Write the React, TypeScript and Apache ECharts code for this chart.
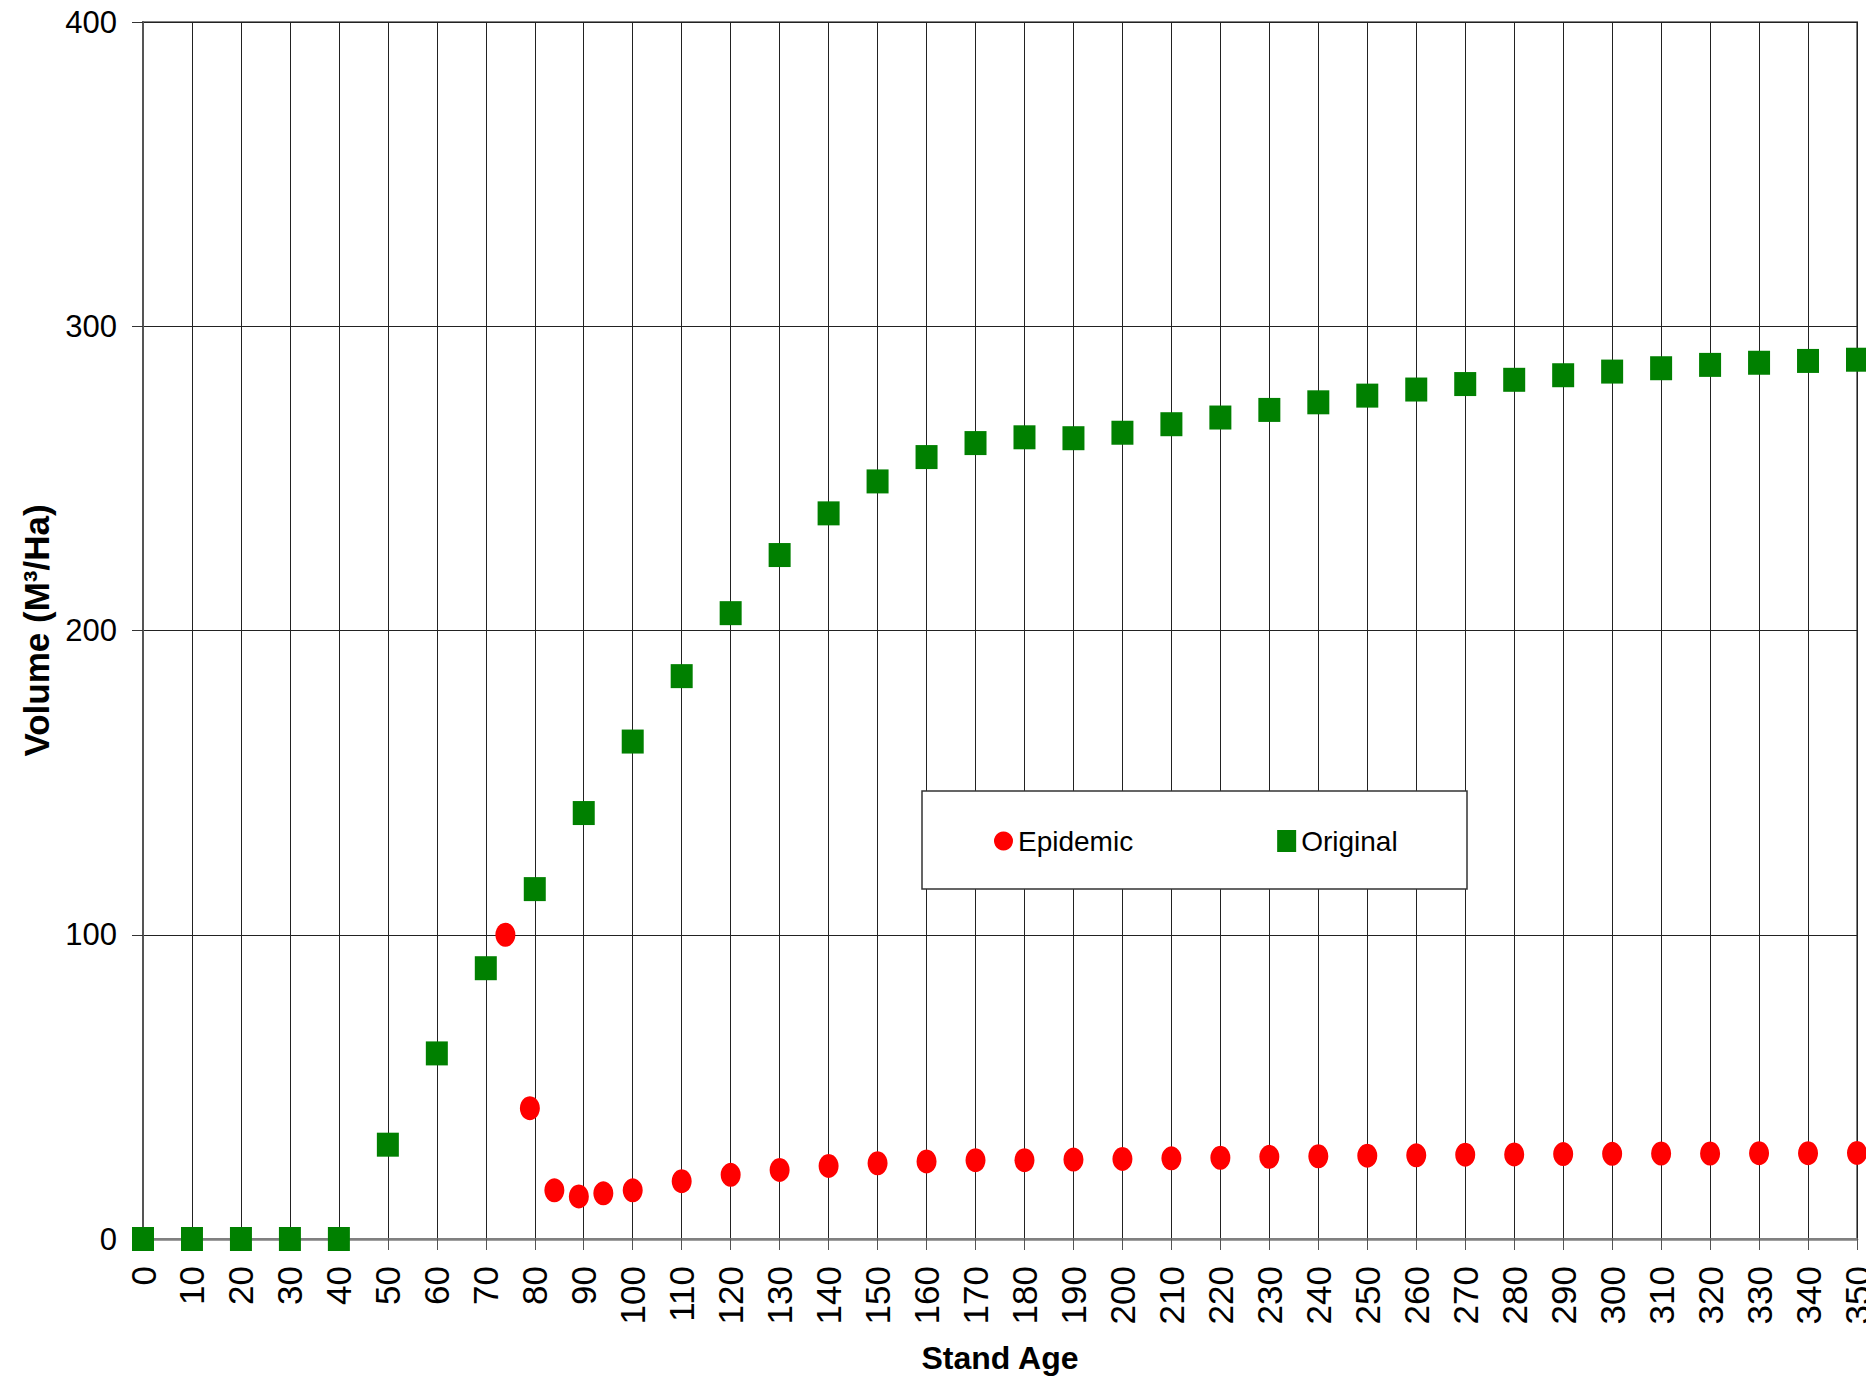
import React, { useEffect, useRef } from "react";
import * as echarts from "echarts";

const epidemicAges = [74, 79, 84, 89, 94, 100, 110, 120, 130, 140, 150, 160, 170, 180, 190, 200, 210, 220, 230, 240, 250, 260, 270, 280, 290, 300, 310, 320, 330, 340, 350];
const epidemicVolumes = [100, 43, 16, 14, 15, 16, 19, 21.1, 22.7, 24, 24.9, 25.5, 25.9, 25.9, 26.1, 26.3, 26.5, 26.7, 27, 27.2, 27.4, 27.5, 27.7, 27.8, 27.9, 28, 28.1, 28.1, 28.2, 28.2, 28.3];

const originalAges = [0, 10, 20, 30, 40, 50, 60, 70, 80, 90, 100, 110, 120, 130, 140, 150, 160, 170, 180, 190, 200, 210, 220, 230, 240, 250, 260, 270, 280, 290, 300, 310, 320, 330, 340, 350];
const originalVolumes = [0, 0, 0, 0, 0, 31, 61, 89, 115, 140, 163.5, 185, 205.7, 224.8, 238.5, 249, 257, 261.6, 263.5, 263.2, 265, 267.8, 270, 272.5, 275, 277.2, 279.2, 281, 282.4, 283.9, 285.1, 286.2, 287.3, 288, 288.6, 289];

const seriesNames = ["Epidemic", "Original"];
const xAxisTitle = "Stand Age";
const yAxisTitle = "Volume (M³/Ha)";

const FONT = "'Liberation Sans', Arial, sans-serif";

export default function App() {
  const ref = useRef<HTMLDivElement>(null);
  useEffect(() => {
    if (!ref.current) return;
    const chart = echarts.init(ref.current, null, { renderer: "svg" });
    chart.setOption({
      animation: false,
      backgroundColor: "#ffffff",
      textStyle: { fontFamily: FONT },
      grid: {
        left: 143,
        top: 22,
        right: 9,
        bottom: 145,
        containLabel: false,
        outerBoundsMode: "none",
        show: true,
        borderColor: "#808080",
        borderWidth: 2,
      },
      xAxis: {
        type: "value",
        min: 0,
        max: 350,
        interval: 10,
        name: xAxisTitle,
        nameLocation: "middle",
        nameGap: 103,
        nameTextStyle: { fontFamily: FONT, fontSize: 32, fontWeight: "bold", color: "#000" },
        axisLine: { show: true, lineStyle: { color: "#808080", width: 2.5 } },
        axisTick: { show: true, length: 11, lineStyle: { color: "#555" } },
        axisLabel: { rotate: 90, margin: 27, fontSize: 35, color: "#000", fontFamily: FONT },
        splitLine: { show: true, lineStyle: { color: "#222", width: 1 } },
      },
      yAxis: {
        type: "value",
        min: 0,
        max: 400,
        interval: 100,
        name: yAxisTitle,
        nameLocation: "middle",
        nameGap: 89,
        nameRotate: 90,
        nameTextStyle: { fontFamily: FONT, fontSize: 35, fontWeight: "bold", color: "#000" },
        axisLine: { show: true, lineStyle: { color: "#555", width: 2 } },
        axisTick: { show: true, length: 11, lineStyle: { color: "#333" } },
        axisLabel: { margin: 26, fontSize: 31, color: "#000", fontFamily: FONT },
        splitLine: { show: true, lineStyle: { color: "#222", width: 1 } },
      },
      legend: {
        data: seriesNames,
        left: 989,
        top: 822,
        orient: "horizontal",
        itemWidth: 19,
        itemHeight: 22,
        itemGap: 144,
        z: 20,
        textStyle: { fontFamily: FONT, fontSize: 28, color: "#000" },
      },
      graphic: [
        {
          type: "rect",
          z: 10,
          shape: { x: 922, y: 791, width: 545, height: 98 },
          style: { fill: "#ffffff", stroke: "#333", lineWidth: 1.5 },
        },
      ],
      series: [
        {
          name: seriesNames[0],
          type: "scatter",
          symbol: "circle",
          symbolSize: [20, 24],
          itemStyle: { color: "#FF0000", opacity: 1 },
          data: epidemicAges.map((a, i) => [a, epidemicVolumes[i]]),
          z: 3,
        },
        {
          name: seriesNames[1],
          type: "scatter",
          symbol: "rect",
          symbolSize: [22, 24],
          itemStyle: { color: "#008000", opacity: 1 },
          data: originalAges.map((a, i) => [a, originalVolumes[i]]),
          z: 2,
        },
      ],
    });
    return () => chart.dispose();
  }, []);
  return (
    <div
      ref={ref}
      style={{ position: "fixed", left: 0, top: 0, width: 1866, height: 1384 }}
    />
  );
}
